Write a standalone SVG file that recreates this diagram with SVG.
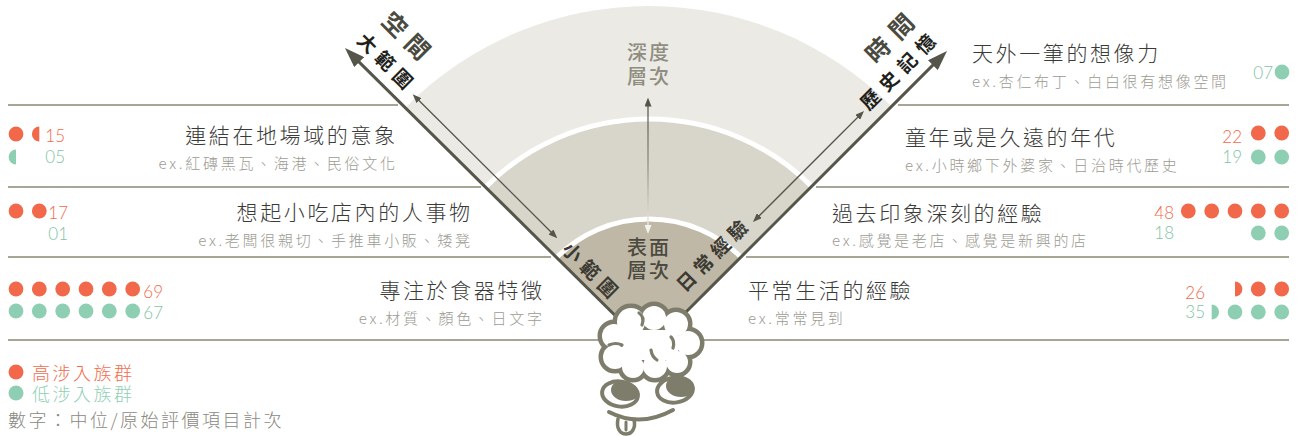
<svg xmlns="http://www.w3.org/2000/svg" width="1297" height="436" viewBox="0 0 1297 436">
  <defs>
    <style>
      .cjk { font-family: "Noto Sans CJK TC", "Noto Sans CJK SC", sans-serif; }
      .title { font-size: 21px; letter-spacing: 2.6px; fill: #3a3a38; font-weight: 300; }
      .sub { font-size: 15px; letter-spacing: 2.7px; fill: #9c9b93; font-weight: 300; }
      .num { font-family: "Lato", "Liberation Sans", sans-serif; font-size: 17px; font-weight: 300; text-anchor: end; }
      .o { fill: #f1694a; }
      .t { fill: #8ecfb3; }
      .no { fill: #f1694a; }
      .nt { fill: #7fc3a4; }
      .rule { stroke: #a7a594; stroke-width: 2; fill: none; }
      .axis { stroke: #55554a; stroke-width: 3; fill: none; }
      .thin { stroke: #55554a; stroke-width: 1.3; fill: none; }
      .axisLbl { font-weight: 700; }
      .brain { stroke: #7e7c6b; fill: none; stroke-linecap: round; stroke-linejoin: round; }
    </style>
    <marker id="bigHead" viewBox="0 0 20 14" markerWidth="20" markerHeight="14" refX="6" refY="7" orient="auto" markerUnits="userSpaceOnUse">
      <path d="M0,0 L20,7 L0,14 Z" fill="#55554a"/>
    </marker>
    <marker id="thinHead" viewBox="0 0 9 7" markerWidth="9" markerHeight="7" refX="4" refY="3.5" orient="auto-start-reverse" markerUnits="userSpaceOnUse">
      <path d="M0,0 L9,3.5 L0,7 Z" fill="#55554a"/>
    </marker>
    <marker id="thinHeadLight" viewBox="0 0 9 7" markerWidth="9" markerHeight="7" refX="4" refY="3.5" orient="auto" markerUnits="userSpaceOnUse">
      <path d="M0,0 L9,3.5 L0,7 Z" fill="#f2f2ee"/>
    </marker>
    <linearGradient id="depthGrad" gradientUnits="userSpaceOnUse" x1="648" y1="100" x2="648" y2="232">
      <stop offset="0" stop-color="#55554a"/>
      <stop offset="0.45" stop-color="#8a897e"/>
      <stop offset="1" stop-color="#f4f4f0"/>
    </linearGradient>
    <clipPath id="eyeL"><ellipse cx="620" cy="394" rx="18" ry="12.5" transform="rotate(8 620 394)"/></clipPath>
    <clipPath id="eyeR"><ellipse cx="675" cy="390" rx="18" ry="12.5" transform="rotate(-8 675 390)"/></clipPath>
  </defs>

  <rect width="1297" height="436" fill="#ffffff"/>

  <!-- three depth layers of the fan -->
  <g id="fan">
    <path d="M649,349 L406.46,106.46 A343,343 0 0 1 891.54,106.46 Z" fill="#ebeae5"/>
    <path d="M649,349 L486.37,186.37 A230,230 0 0 1 811.63,186.37 Z" fill="#d8d5cb"/>
    <path d="M649,349 L557.08,257.08 A130,130 0 0 1 740.92,257.08 Z" fill="#c0b8a6"/>
    <path d="M486.37,186.37 A230,230 0 0 1 811.63,186.37" stroke="#ffffff" stroke-width="5" fill="none"/>
    <path d="M557.08,257.08 A130,130 0 0 1 740.92,257.08" stroke="#ffffff" stroke-width="5" fill="none"/>
  </g>

  <!-- row separators -->
  <g id="rules">
    <line class="rule" x1="8" y1="105" x2="398" y2="105"/>
    <line class="rule" x1="898" y1="105" x2="1289" y2="105"/>
    <line class="rule" x1="8" y1="187" x2="481" y2="187"/>
    <line class="rule" x1="816" y1="187" x2="1289" y2="187"/>
    <line class="rule" x1="8" y1="257" x2="551" y2="257"/>
    <line class="rule" x1="746" y1="257" x2="1289" y2="257"/>
    <line class="rule" x1="8" y1="340" x2="1289" y2="340"/>
  </g>

  <!-- axes and range arrows -->
  <g id="connectors">
    <line class="axis" x1="649" y1="349" x2="354.9" y2="57.9" marker-end="url(#bigHead)"/>
    <line class="axis" x1="649" y1="349" x2="937.1" y2="60.9" marker-end="url(#bigHead)"/>
    <line class="thin" x1="416.2" y1="97.8" x2="553.8" y2="234.8" marker-start="url(#thinHead)" marker-end="url(#thinHead)"/>
    <line class="thin" x1="860.5" y1="114.5" x2="756.5" y2="218.5" marker-start="url(#thinHead)" marker-end="url(#thinHead)"/>
    <line x1="648" y1="102.5" x2="648" y2="229" stroke="url(#depthGrad)" stroke-width="1.3" marker-start="url(#thinHead)" marker-end="url(#thinHeadLight)"/>
  </g>

  <!-- axis labels -->
  <g id="axis-space" class="cjk axisLbl">
    <text transform="translate(406 36) rotate(45)" x="4" y="8.5" font-size="24" letter-spacing="8" text-anchor="middle" fill="#4a4a40">空間</text>
    <text transform="translate(385 61) rotate(45)" x="3" y="7" font-size="19" letter-spacing="6" text-anchor="middle" fill="#1f1f1c">大範圍</text>
  </g>
  <g id="axis-time" class="cjk axisLbl">
    <text transform="translate(890 38.5) rotate(-45)" x="4.5" y="8.5" font-size="24" letter-spacing="9" text-anchor="middle" fill="#4a4a40">時間</text>
    <text transform="translate(898 72) rotate(-45)" x="3.5" y="7" font-size="19" letter-spacing="7" text-anchor="middle" fill="#1f1f1c">歷史記憶</text>
  </g>
  <g id="axis-small" class="cjk axisLbl">
    <text transform="translate(590 270) rotate(45)" x="3" y="7" font-size="19" letter-spacing="6" text-anchor="middle" fill="#3b3a33">小範圍</text>
  </g>
  <g id="axis-daily" class="cjk axisLbl">
    <text transform="translate(712 256) rotate(-45)" x="2.5" y="7" font-size="19" letter-spacing="5" text-anchor="middle" fill="#3b3a33">日常經驗</text>
  </g>
  <g id="depth-deep" class="cjk" font-size="20" font-weight="500" fill="#8e8d7f" text-anchor="middle" letter-spacing="2">
    <text x="649" y="60">深度</text>
    <text x="649" y="84">層次</text>
  </g>
  <g id="depth-surface" class="cjk" font-size="20" font-weight="500" fill="#4b4a40" text-anchor="middle" letter-spacing="2">
    <text x="649" y="255">表面</text>
    <text x="649" y="278">層次</text>
  </g>

  <!-- left rows (space) -->
  <g id="left-row-1">
    <text class="cjk title" x="397.6" y="143" text-anchor="end">連結在地場域的意象</text>
    <text class="cjk sub" x="397.7" y="168.5" text-anchor="end">ex.紅磚黑瓦、海港、民俗文化</text>
    <circle class="o" cx="16" cy="134" r="7.4"/>
    <path class="o" d="M39.3,126.6 A7.4,7.4 0 0 0 39.3,141.4 Z"/>
    <path class="t" d="M16,149.6 A7.4,7.4 0 0 0 16,164.4 Z"/>
    <text class="num no" x="65" y="142">15</text>
    <text class="num nt" x="65" y="163">05</text>
  </g>
  <g id="left-row-2">
    <text class="cjk title" x="472.6" y="220" text-anchor="end">想起小吃店內的人事物</text>
    <text class="cjk sub" x="472.7" y="245.5" text-anchor="end">ex.老闆很親切、手推車小販、矮凳</text>
    <circle class="o" cx="16" cy="211" r="7.4"/>
    <circle class="o" cx="39.3" cy="211" r="7.4"/>
    <text class="num no" x="68" y="219">17</text>
    <text class="num nt" x="68" y="240">01</text>
  </g>
  <g id="left-row-3">
    <text class="cjk title" x="544.6" y="298" text-anchor="end">專注於食器特徵</text>
    <text class="cjk sub" x="544.7" y="323.5" text-anchor="end">ex.材質、顏色、日文字</text>
    <g class="o">
      <circle cx="16" cy="289" r="7.4"/><circle cx="39.3" cy="289" r="7.4"/><circle cx="62.7" cy="289" r="7.4"/>
      <circle cx="86" cy="289" r="7.4"/><circle cx="109.3" cy="289" r="7.4"/><circle cx="132.7" cy="289" r="7.4"/>
    </g>
    <g class="t">
      <circle cx="16" cy="311" r="7.4"/><circle cx="39.3" cy="311" r="7.4"/><circle cx="62.7" cy="311" r="7.4"/>
      <circle cx="86" cy="311" r="7.4"/><circle cx="109.3" cy="311" r="7.4"/><circle cx="132.7" cy="311" r="7.4"/>
    </g>
    <text class="num no" x="163" y="298">69</text>
    <text class="num nt" x="163" y="319">67</text>
  </g>

  <!-- right rows (time) -->
  <g id="right-row-0">
    <text class="cjk title" x="972" y="61">天外一筆的想像力</text>
    <text class="cjk sub" x="972" y="86.5">ex.杏仁布丁、白白很有想像空間</text>
    <circle class="t" cx="1282" cy="72" r="7.4"/>
    <text class="num nt" x="1273" y="79">07</text>
  </g>
  <g id="right-row-1">
    <text class="cjk title" x="905" y="145">童年或是久遠的年代</text>
    <text class="cjk sub" x="905" y="170.5">ex.小時鄉下外婆家、日治時代歷史</text>
    <circle class="o" cx="1258.3" cy="133" r="7.4"/><circle class="o" cx="1281.7" cy="133" r="7.4"/>
    <circle class="t" cx="1258.3" cy="157" r="7.4"/><circle class="t" cx="1281.7" cy="157" r="7.4"/>
    <text class="num no" x="1242" y="143">22</text>
    <text class="num nt" x="1242" y="163">19</text>
  </g>
  <g id="right-row-2">
    <text class="cjk title" x="832" y="221">過去印象深刻的經驗</text>
    <text class="cjk sub" x="832" y="245.5">ex.感覺是老店、感覺是新興的店</text>
    <g class="o">
      <circle cx="1188.3" cy="211" r="7.4"/><circle cx="1211.7" cy="211" r="7.4"/><circle cx="1235" cy="211" r="7.4"/>
      <circle cx="1258.3" cy="211" r="7.4"/><circle cx="1281.7" cy="211" r="7.4"/>
    </g>
    <circle class="t" cx="1258.3" cy="233" r="7.4"/><circle class="t" cx="1281.7" cy="233" r="7.4"/>
    <text class="num no" x="1174" y="219">48</text>
    <text class="num nt" x="1174" y="239">18</text>
  </g>
  <g id="right-row-3">
    <text class="cjk title" x="748" y="298">平常生活的經驗</text>
    <text class="cjk sub" x="748" y="323.5">ex.常常見到</text>
    <path class="o" d="M1235,281.6 A7.4,7.4 0 0 1 1235,296.4 Z"/>
    <circle class="o" cx="1258.3" cy="289" r="7.4"/><circle class="o" cx="1281.7" cy="289" r="7.4"/>
    <path class="t" d="M1211.7,304.6 A7.4,7.4 0 0 1 1211.7,319.4 Z"/>
    <circle class="t" cx="1235" cy="312" r="7.4"/><circle class="t" cx="1258.3" cy="312" r="7.4"/><circle class="t" cx="1281.7" cy="312" r="7.4"/>
    <text class="num no" x="1205" y="299">26</text>
    <text class="num nt" x="1205" y="318">35</text>
  </g>

  <!-- legend -->
  <g id="legend" class="cjk" font-size="18" letter-spacing="2.5" font-weight="300">
    <circle class="o" cx="16" cy="372" r="7.5"/>
    <text x="32" y="380" fill="#f26b4c">高涉入族群</text>
    <circle class="t" cx="16" cy="393" r="7.5"/>
    <text x="32" y="401" fill="#8fd0b5">低涉入族群</text>
    <text x="8" y="427" fill="#8a897f">數字：中位/原始評價項目計次</text>
  </g>

  <!-- brain mascot at the apex -->
  <g id="brain">
    <g class="brain" stroke-width="9">
      <circle cx="615" cy="357" r="12"/><circle cx="614" cy="336" r="12"/><circle cx="631" cy="322" r="14"/>
      <circle cx="654" cy="318" r="12"/><circle cx="676" cy="324" r="12"/><circle cx="688" cy="343" r="12"/>
      <circle cx="677" cy="362" r="11"/><circle cx="655" cy="366" r="12"/><circle cx="633" cy="367" r="11"/>
    </g>
    <g fill="#ffffff">
      <circle cx="615" cy="357" r="12"/><circle cx="614" cy="336" r="12"/><circle cx="631" cy="322" r="14"/>
      <circle cx="654" cy="318" r="12"/><circle cx="676" cy="324" r="12"/><circle cx="688" cy="343" r="12"/>
      <circle cx="677" cy="362" r="11"/><circle cx="655" cy="366" r="12"/><circle cx="633" cy="367" r="11"/>
      <rect x="622" y="330" width="56" height="30"/>
    </g>
    <g class="brain" stroke-width="3.2">
      <path d="M639,313 q6,4 3,12"/>
      <path d="M671,337 q4,4 2,11"/>
      <path d="M609,345 q7,-3 13,0"/>
      <path d="M651,350 q1,7 6,10"/>
    </g>
    <g>
      <ellipse cx="620" cy="394" rx="18" ry="12.5" transform="rotate(8 620 394)" fill="#ffffff"/>
      <ellipse cx="626" cy="390" rx="15" ry="11" fill="#7e7c6b" clip-path="url(#eyeL)"/>
      <ellipse class="brain" cx="620" cy="394" rx="18" ry="12.5" transform="rotate(8 620 394)" stroke-width="4"/>
      <ellipse cx="675" cy="390" rx="18" ry="12.5" transform="rotate(-8 675 390)" fill="#ffffff"/>
      <ellipse cx="681" cy="386" rx="15" ry="11" fill="#7e7c6b" clip-path="url(#eyeR)"/>
      <ellipse class="brain" cx="675" cy="390" rx="18" ry="12.5" transform="rotate(-8 675 390)" stroke-width="4"/>
    </g>
    <path class="brain" d="M609,412 Q640,428 673,410" stroke-width="4"/>
    <path class="brain" d="M618,419 C616,428 620,434 626,434 C632,434 636,428 634,420" stroke-width="3.5" fill="#ffffff"/>
    <path class="brain" d="M626,422 L626,430" stroke-width="3"/>
  </g>
</svg>
